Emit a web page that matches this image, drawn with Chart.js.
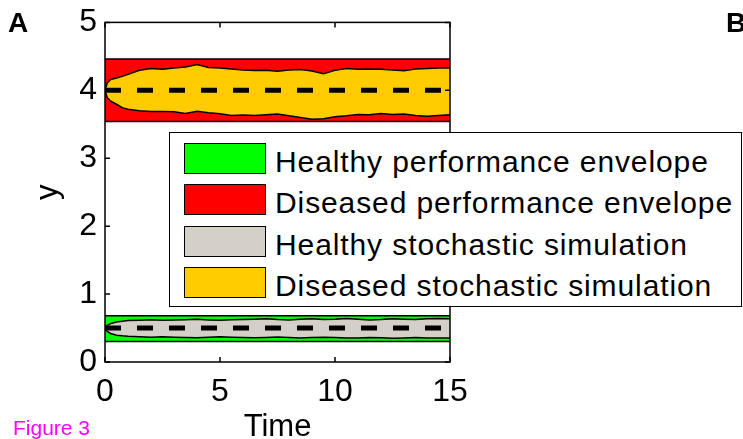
<!DOCTYPE html>
<html>
<head>
<meta charset="utf-8">
<script src="https://cdn.jsdelivr.net/npm/chart.js@4.4.0/dist/chart.umd.min.js"></script>
<style>
  html, body { margin: 0; padding: 0; background: #fff; }
  #lienzo { position: relative; width: 743px; height: 439px; overflow: hidden; font-family: "Liberation Sans", Arial, Helvetica, sans-serif; }
  #grafico { position: absolute; left: 0; top: 0; }
  .panel { position: absolute; font-weight: bold; font-size: 28px; line-height: 1; color: #000; }
  #figura { position: absolute; left: 13px; top: 417px; font-size: 21px; line-height: 1; color: #ff00ff; }
  #leyenda { position: absolute; left: 169px; top: 132px; width: 571px; height: 173px; border: 1px solid #000; background: #fff; }
  .fila { position: absolute; left: 14px; height: 31px; }
  .muestra { position: absolute; left: 0; top: 0; width: 80px; height: 29px; border: 1px solid #000; }
  .texto { position: absolute; left: 91px; top: 3px; font-size: 30px; line-height: 31px; letter-spacing: 0.9px; white-space: nowrap; color: #000; }
</style>
</head>
<body>
<div id="lienzo">
  <canvas id="grafico" width="743" height="439"></canvas>
  <div class="panel" style="left:8px; top:9px;">A</div>
  <div class="panel" style="left:726px; top:9px;">B</div>
  <div id="figura">Figure 3</div>
  <div id="leyenda"></div>
</div>
<script>
// tiempos comunes de las simulaciones estocásticas
const tiempos = [0, 0.1, 0.25, 0.5, 0.75, 1, 1.5, 2, 2.5, 3, 3.5, 4, 4.5, 5, 5.5, 6, 6.5, 7, 7.5,
  8, 8.5, 9, 9.5, 10, 10.5, 11, 11.5, 12, 12.5, 13, 13.5, 14, 14.5, 15];

// simulación sana (gris): borde superior e inferior
const sanoSup = [0.5, 0.54, 0.565, 0.59, 0.60, 0.61, 0.615, 0.623, 0.615, 0.62, 0.623, 0.628, 0.62, 0.614,
  0.623, 0.625, 0.63, 0.635, 0.625, 0.62, 0.63, 0.635, 0.625, 0.63, 0.64, 0.63, 0.62, 0.625, 0.635,
  0.63, 0.625, 0.635, 0.64, 0.635];
const sanoInf = [0.5, 0.45, 0.42, 0.395, 0.385, 0.378, 0.372, 0.365, 0.37, 0.365, 0.362, 0.358, 0.365, 0.372,
  0.365, 0.36, 0.358, 0.362, 0.367, 0.36, 0.355, 0.36, 0.365, 0.36, 0.352, 0.355, 0.36, 0.358, 0.35,
  0.355, 0.36, 0.355, 0.352, 0.355];

// simulación enferma (amarilla)
const enfermoSup = [4.0, 4.11, 4.16, 4.18, 4.205, 4.235, 4.295, 4.32, 4.31, 4.33, 4.345, 4.38, 4.335, 4.33,
  4.315, 4.30, 4.29, 4.295, 4.28, 4.30, 4.305, 4.285, 4.245, 4.295, 4.32, 4.31, 4.315, 4.31, 4.30,
  4.29, 4.315, 4.32, 4.33, 4.33];
const enfermoInf = [4.0, 3.89, 3.84, 3.795, 3.745, 3.72, 3.70, 3.69, 3.69, 3.685, 3.66, 3.69, 3.67, 3.655,
  3.63, 3.635, 3.63, 3.64, 3.65, 3.625, 3.60, 3.575, 3.58, 3.61, 3.625, 3.645, 3.64, 3.66, 3.645,
  3.65, 3.63, 3.62, 3.63, 3.64];

// envolventes de desempeño y trayectorias medias
const tiemposEnv = [0, 15];
const sanoEnvSup = [0.68, 0.68];
const sanoEnvInf = [0.30, 0.30];
const enfermoEnvSup = [4.46, 4.46];
const enfermoEnvInf = [3.54, 3.54];
const sanoMedia = [0.5, 0.5];
const enfermoMedia = [4.0, 4.0];

// leyenda
const etiquetas = ["Healthy performance envelope", "Diseased performance envelope",
  "Healthy stochastic simulation", "Diseased stochastic simulation"];
const colores = ["#00ff00", "#ff0000", "#d4d0c8", "#ffcc00"];

// ejes
const ticksX = [0, 5, 10, 15];
const ticksY = [0, 1, 2, 3, 4, 5];

const puntos = (ts, vs) => ts.map((t, i) => ({ x: t, y: vs[i] }));

// banda: el borde superior rellena hasta el siguiente dataset (el inferior)
function banda(ts, sup, inf, color, orden) {
  return [
    { data: puntos(ts, sup), fill: '+1', backgroundColor: color, borderColor: '#000', borderWidth: 1.5, order: orden + 1 },
    { data: puntos(ts, inf), fill: false, borderColor: '#000', borderWidth: 1.5, order: orden }
  ];
}

function media(vs) {
  return { data: puntos(tiemposEnv, vs), fill: false, borderColor: '#000', borderWidth: 5,
    borderDash: [16, 16], borderCapStyle: 'butt', order: 1 };
}

const datasets = [
  ...banda(tiemposEnv, sanoEnvSup, sanoEnvInf, colores[0], 8),
  ...banda(tiemposEnv, enfermoEnvSup, enfermoEnvInf, colores[1], 8),
  ...banda(tiempos, sanoSup, sanoInf, colores[2], 4),
  ...banda(tiempos, enfermoSup, enfermoInf, colores[3], 4),
  media(sanoMedia),
  media(enfermoMedia)
];

// marco estilo matlab con ticks hacia adentro
const marcoEjes = {
  id: 'marcoEjes',
  afterDatasetsDraw(chart) {
    const { ctx, chartArea: a, scales: { x, y } } = chart;
    ctx.save();
    ctx.strokeStyle = '#000';
    ctx.lineWidth = 1.5;
    ctx.strokeRect(a.left, a.top, a.right - a.left, a.bottom - a.top);
    ctx.beginPath();
    x.ticks.forEach(t => {
      const px = x.getPixelForValue(t.value);
      ctx.moveTo(px, a.bottom); ctx.lineTo(px, a.bottom - 5);
      ctx.moveTo(px, a.top); ctx.lineTo(px, a.top + 5);
    });
    y.ticks.forEach(t => {
      const py = y.getPixelForValue(t.value);
      ctx.moveTo(a.left, py); ctx.lineTo(a.left + 5, py);
      ctx.moveTo(a.right, py); ctx.lineTo(a.right - 5, py);
    });
    ctx.stroke();
    ctx.restore();
  }
};

const fuente = '"Liberation Sans", Arial, Helvetica, sans-serif';

new Chart(document.getElementById('grafico'), {
  type: 'line',
  data: { datasets },
  options: {
    responsive: false,
    animation: false,
    devicePixelRatio: 1,
    elements: { point: { radius: 0 }, line: { tension: 0 } },
    layout: { padding: { left: 0, right: 293, top: 17, bottom: 0 } },
    plugins: { legend: { display: false }, tooltip: { enabled: false } },
    scales: {
      x: {
        type: 'linear', min: 0, max: 15,
        afterBuildTicks: s => { s.ticks = ticksX.map(v => ({ value: v })); },
        afterFit: s => { s.height = 77; },
        grid: { display: false, drawTicks: false },
        border: { display: false },
        ticks: { color: '#000', padding: 14, font: { family: fuente, size: 32, lineHeight: 1 } },
        title: { display: true, text: 'Time', color: '#000', padding: { top: 0, bottom: 0 },
          font: { family: fuente, size: 31, lineHeight: 0.75 } }
      },
      y: {
        min: 0, max: 5,
        afterBuildTicks: s => { s.ticks = ticksY.map(v => ({ value: v })); },
        afterFit: s => { s.width = 105; },
        grid: { display: false, drawTicks: false },
        border: { display: false },
        ticks: { color: '#000', padding: 8, font: { family: fuente, size: 32, lineHeight: 0.9 } },
        title: { display: true, text: 'y', color: '#000', padding: { top: 33, bottom: 0 },
          font: { family: fuente, size: 31, lineHeight: 1 } }
      }
    }
  },
  plugins: [marcoEjes]
});

// leyenda html superpuesta
const leyenda = document.getElementById('leyenda');
etiquetas.forEach((txt, i) => {
  const fila = document.createElement('div');
  fila.className = 'fila';
  fila.style.top = (10 + i * 41.3) + 'px';
  fila.innerHTML = '<div class="muestra" style="background:' + colores[i] + '"></div><div class="texto"></div>';
  fila.querySelector('.texto').textContent = txt;
  leyenda.appendChild(fila);
});
</script>
</body>
</html>
